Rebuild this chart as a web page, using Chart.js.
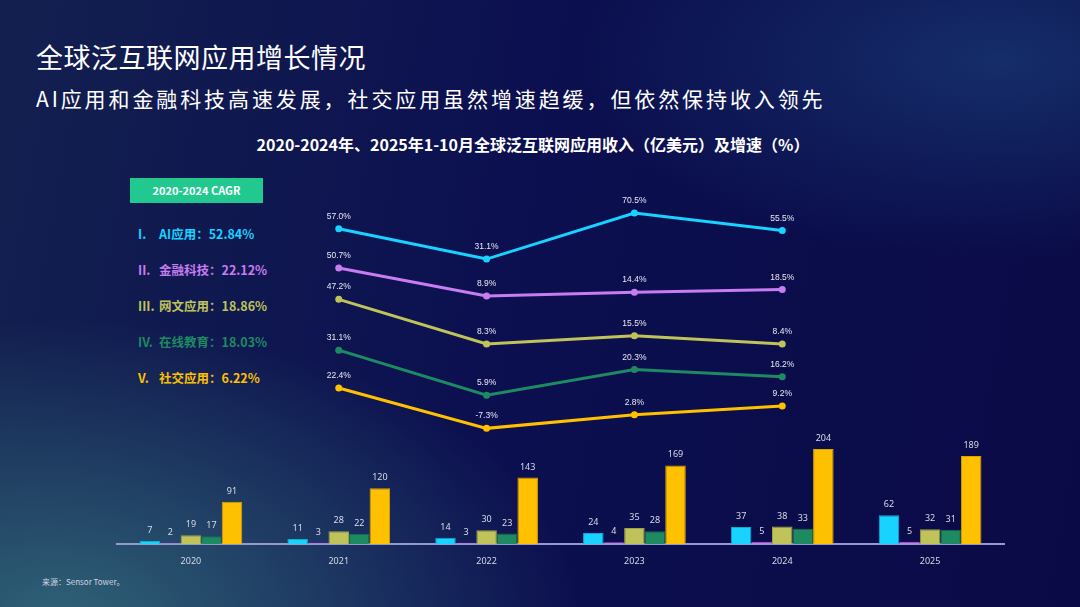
<!DOCTYPE html>
<html>
<head>
<meta charset="utf-8">
<script src="https://cdn.jsdelivr.net/npm/chart.js@4.4.0/dist/chart.umd.min.js"></script>
<style>
  html, body { margin: 0; padding: 0; }
  body {
    width: 1080px; height: 607px; overflow: hidden; position: relative;
    font-family: "Noto Sans CJK SC", "Noto Sans", sans-serif;
    background:
      radial-gradient(ellipse 520px 300px at 60px 620px, rgba(52,110,125,0.85), rgba(52,110,125,0) 100%),
      radial-gradient(ellipse 420px 200px at 1000px 60px, rgba(25,60,120,0.7), rgba(25,60,120,0) 100%),
      linear-gradient(100deg, #13204f 0%, #0c1050 45%, #0a0a46 100%);
  }
  .title { position: absolute; left: 36px; top: 37px; color: #fff; font-size: 27px; letter-spacing: 0.5px; }
  .subtitle { position: absolute; left: 36px; top: 83px; color: #fff; font-size: 21px; letter-spacing: 2.9px; }
  .ctitle { position: absolute; left: 0; width: 1080px; text-align: center; top: 132px; color: #fff;
            font-size: 16px; font-weight: bold; padding-right: 14px; box-sizing: border-box; }
  .cagr { position: absolute; left: 130px; top: 178px; width: 133px; height: 25px; background: #22c98f;
          color: #fff; font-size: 11px; font-weight: bold; text-align: center; line-height: 25px; }
  .leg { position: absolute; left: 138px; font-size: 12.5px; font-weight: bold; white-space: nowrap; }
  .leg span.n { display: inline-block; width: 21px; }
  .src { position: absolute; left: 42px; top: 576px; color: #cfd6e2; font-size: 8px; }
  #wrap { position: absolute; left: 0; top: 0; width: 1080px; height: 607px; }
</style>
</head>
<body>
<div class="title">全球泛互联网应用增长情况</div>
<div class="subtitle">AI应用和金融科技高速发展，社交应用虽然增速趋缓，但依然保持收入领先</div>
<div class="ctitle">2020-2024年、2025年1-10月全球泛互联网应用收入（亿美元）及增速（%）</div>
<div class="cagr">2020-2024 CAGR</div>
<div id="legend"></div>
<div class="src">来源：Sensor Tower。</div>
<div id="wrap"><canvas id="chart"></canvas></div>
<script>
// categories
const years = ['2020', '2021', '2022', '2023', '2024', '2025'];
const seriesNames = ['AI应用', '金融科技', '网文应用', '在线教育', '社交应用'];
const colors = ['#18d2ff', '#c77cf2', '#bfc35a', '#1d8a62', '#ffc000'];
const borders = ['#12a9d0', '#a45fd0', '#9ea145', '#176e4f', '#d9a200'];

// revenue (亿美元)
const revAI = [7, 11, 14, 24, 37, 62];
const revFintech = [2, 3, 3, 4, 5, 5];
const revNovel = [19, 28, 30, 35, 38, 32];
const revEdu = [17, 22, 23, 28, 33, 31];
const revSocial = [91, 120, 143, 169, 204, 189];

// growth (%) 2021-2024
const growAI = [null, 57.0, 31.1, 70.5, 55.5, null];
const growFintech = [null, 50.7, 8.9, 14.4, 18.5, null];
const growNovel = [null, 47.2, 8.3, 15.5, 8.4, null];
const growEdu = [null, 31.1, 5.9, 20.3, 16.2, null];
const growSocial = [null, 22.4, -7.3, 2.8, 9.2, null];

// 2020-2024 CAGR
const cagrNums = ['I.', 'II.', 'III.', 'IV.', 'V.'];
const cagrValues = ['52.84%', '22.12%', '18.86%', '18.03%', '6.22%'];

// each growth line sits on its own hidden axis
const lineRanges = [[-213, 98.8], [-361.3, 181.9], [-165.8, 151], [-77.5, 126.3], [-92.6, 175.6]];

const revenue = [revAI, revFintech, revNovel, revEdu, revSocial];
const growth = [growAI, growFintech, growNovel, growEdu, growSocial];

const legendTops = [224, 260, 296, 332, 368];
const legend = document.getElementById('legend');
seriesNames.forEach((name, i) => {
  const d = document.createElement('div');
  d.className = 'leg';
  d.style.top = legendTops[i] + 'px';
  d.style.color = colors[i];
  d.innerHTML = '<span class="n">' + cagrNums[i] + '</span>' + name + '：' + cagrValues[i];
  legend.appendChild(d);
});

const datasets = [];
growth.forEach((g, i) => {
  datasets.push({
    type: 'line',
    label: seriesNames[i] + '增速',
    data: g,
    yAxisID: 'g' + i,
    borderColor: colors[i],
    backgroundColor: colors[i],
    borderWidth: 3,
    pointRadius: 3.5,
    pointBorderWidth: 0,
    pointHoverRadius: 3.5,
    tension: 0,
    spanGaps: false,
    isGrowth: true,
  });
});
revenue.forEach((r, i) => {
  datasets.push({
    type: 'bar',
    label: seriesNames[i],
    data: r,
    yAxisID: 'y',
    backgroundColor: colors[i],
    borderColor: borders[i],
    borderWidth: 1,
    barPercentage: 1,
    categoryPercentage: 0.695,
  });
});

const scales = {
  x: {
    grid: { display: false },
    border: { display: true, color: '#9599cf', width: 2 },
    ticks: { color: '#d6d9e6', font: { size: 9, family: 'Noto Sans' }, padding: 4 },
  },
  y: { display: false, min: 0, max: 781 },
};
lineRanges.forEach((r, i) => {
  scales['g' + i] = { display: false, min: r[0], max: r[1] };
});

const labelPlugin = {
  id: 'valueLabels',
  afterDatasetsDraw(chart) {
    const ctx = chart.ctx;
    ctx.save();
    ctx.textAlign = 'center';
    ctx.textBaseline = 'bottom';
    chart.data.datasets.forEach((ds, di) => {
      const meta = chart.getDatasetMeta(di);
      meta.data.forEach((el, idx) => {
        const v = ds.data[idx];
        if (v === null || v === undefined) return;
        if (ds.isGrowth) {
          ctx.fillStyle = '#e8e9f2';
          ctx.font = '8.5px "Liberation Sans", Arial, sans-serif';
          ctx.fillText(v.toFixed(1) + '%', el.x, el.y - 8);
        } else {
          ctx.fillStyle = '#d8dbe8';
          ctx.font = '9px "Noto Sans", sans-serif';
          ctx.fillText(String(v), el.x, el.y - 6);
        }
      });
    });
    ctx.restore();
  }
};

new Chart(document.getElementById('chart'), {
  data: { labels: years, datasets: datasets },
  options: {
    responsive: true,
    maintainAspectRatio: false,
    animation: false,
    layout: { padding: { left: 117, right: 76, top: 180, bottom: 36 } },
    plugins: { legend: { display: false }, tooltip: { enabled: false } },
    scales: scales,
  },
  plugins: [labelPlugin],
});
</script>
</body>
</html>
